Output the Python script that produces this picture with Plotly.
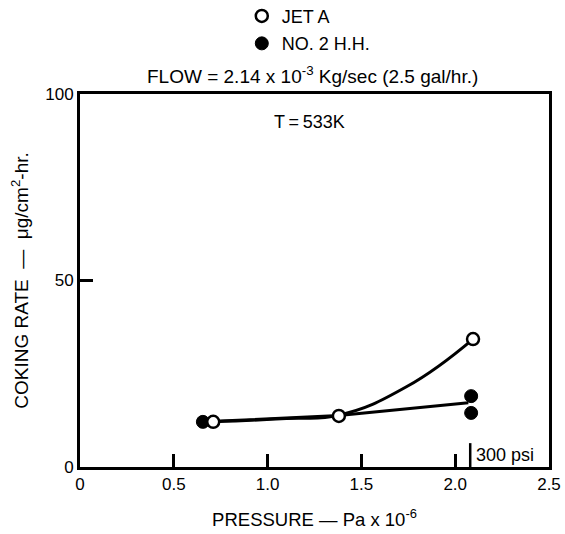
import plotly.graph_objects as go

# Measured data points
jet_a_x = [0.71, 1.38, 2.095]
jet_a_y = [12.1, 13.7, 34.3]
no2_x = [0.655, 2.085, 2.085]
no2_y = [12.1, 19.0, 14.5]

# Fitted curves
jet_a_fit_x = [0.71, 1.10, 1.38, 1.74, 2.095]
jet_a_fit_y = [12.1, 13.0, 13.9, 21.5, 34.3]
no2_fit_x = [0.655, 1.38, 2.07]
no2_fit_y = [12.1, 13.8, 17.2]

x_ticks = [0, 0.5, 1.0, 1.5, 2.0, 2.5]
x_tick_labels = ["0", "0.5", "1.0", "1.5", "2.0", "2.5"]
y_ticks = [0, 50, 100]
psi_marker_x = 2.08

FONT = "Liberation Sans, Arial, Helvetica, sans-serif"

fig = go.Figure()
fig.add_trace(go.Scatter(x=jet_a_fit_x, y=jet_a_fit_y, mode="lines",
                         line=dict(color="black", width=3, shape="spline", smoothing=1.3),
                         showlegend=False, hoverinfo="skip"))
fig.add_trace(go.Scatter(x=no2_fit_x, y=no2_fit_y, mode="lines",
                         line=dict(color="black", width=3, shape="linear"),
                         showlegend=False, hoverinfo="skip"))
fig.add_trace(go.Scatter(x=no2_x, y=no2_y, mode="markers", name="NO. 2 H.H.",
                         legendgroup="b", legendrank=2,
                         marker=dict(symbol="circle", size=13, color="black",
                                     line=dict(color="black", width=1))))
fig.add_trace(go.Scatter(x=jet_a_x, y=jet_a_y, mode="markers", name="JET A",
                         legendgroup="a", legendrank=1,
                         marker=dict(symbol="circle", size=12, color="white",
                                     line=dict(color="black", width=2.5))))

fig.add_shape(type="line", x0=psi_marker_x, x1=psi_marker_x, y0=0, y1=6.4,
              xref="x", yref="y", line=dict(color="black", width=2.5))
fig.add_annotation(x=psi_marker_x, y=3.3, xref="x", yref="y", text="300 psi",
                   showarrow=False, xanchor="left", xshift=4,
                   font=dict(family=FONT, size=18, color="black"))
fig.add_annotation(x=0.495, y=1.0, xref="paper", yref="paper",
                   text="FLOW = 2.14 x 10<sup>-3</sup> Kg/sec (2.5 gal/hr.)",
                   showarrow=False, yanchor="middle", yshift=19,
                   font=dict(family=FONT, size=19, color="black"))
fig.add_annotation(x=0.49, y=0.957, xref="paper", yref="paper",
                   text="T\u2009=\u2009533K", showarrow=False,
                   font=dict(family=FONT, size=18, color="black"))

fig.update_layout(
    width=565, height=534,
    margin=dict(l=80, r=16, t=94, b=67, autoexpand=False),
    paper_bgcolor="white", plot_bgcolor="white",
    font=dict(family=FONT, size=17, color="black"),
    showlegend=True,
    legend=dict(x=0.345, y=1.258, xanchor="left", yanchor="top",
                traceorder="grouped", tracegroupgap=1,
                font=dict(family=FONT, size=18, color="black"),
                bgcolor="rgba(0,0,0,0)", itemwidth=30),
    xaxis=dict(range=[0, 2.5], tickvals=x_ticks, ticktext=x_tick_labels,
               ticks="inside", ticklen=13, tickwidth=2.5, tickcolor="black",
               ticklabeloverflow="allow",
               showline=True, linewidth=3, linecolor="black", mirror=True,
               showgrid=False, zeroline=False,
               title=dict(text="PRESSURE — Pa x 10<sup>-6</sup>", standoff=20,
                          font=dict(family=FONT, size=18.5))),
    yaxis=dict(range=[0, 100], tickvals=y_ticks,
               ticks="inside", ticklen=13, tickwidth=2.5, tickcolor="black",
               showline=True, linewidth=3, linecolor="black", mirror=True,
               showgrid=False, zeroline=False,
               title=dict(text="COKING RATE  —  μg/cm<sup>2</sup>-hr.", standoff=12,
                          font=dict(family=FONT, size=19))),
)

fig.write_html("out.html", config={"displayModeBar": False},
               post_script="document.body.style.margin='0';document.body.style.overflow='hidden';")
